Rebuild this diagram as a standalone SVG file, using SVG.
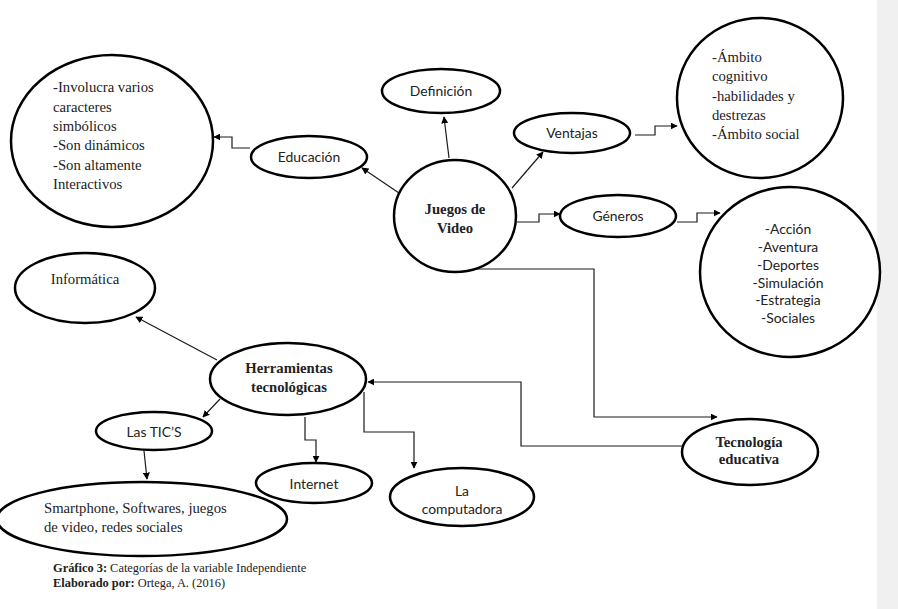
<svg xmlns="http://www.w3.org/2000/svg" width="898" height="609" viewBox="0 0 898 609">
  <style>
    .node { fill: #ffffff; stroke: #000000; stroke-width: 2.5; }
    .serif { font-family: "Liberation Serif", "DejaVu Serif", serif; font-size: 14.7px; fill: #222222; }
    .serif-b { font-family: "Liberation Serif", "DejaVu Serif", serif; font-size: 14.7px; font-weight: bold; fill: #222222; }
    .sans { font-family: Lato, "Liberation Sans", sans-serif; font-size: 13.9px; fill: #222222; }
    .cap { font-family: "Liberation Serif", "DejaVu Serif", serif; font-size: 12.4px; fill: #222222; }
    .link { fill: none; stroke: #1a1a1a; stroke-width: 1.2; marker-end: url(#arrow); }
  </style>
  <defs>
    <marker id="arrow" viewBox="0 0 10 10" refX="9" refY="5" markerWidth="7" markerHeight="7" markerUnits="userSpaceOnUse" orient="auto">
      <path d="M0,0 L10,5 L0,10 z" fill="#000000"/>
    </marker>
  </defs>

  <rect x="0" y="0" width="898" height="609" fill="#ffffff"/>
  <rect x="877" y="0" width="21" height="609" fill="#f0f0f0"/>

  <g id="connectors">
    <path class="link" d="M399,193 L362,168"/>
    <path class="link" d="M449,158 L444,117"/>
    <path class="link" d="M512,188 L543,152"/>
    <path class="link" d="M250,148 H232 V137 H214"/>
    <path class="link" d="M635,135 H655 V126 H677"/>
    <path class="link" d="M517,222 H539 V214 H560"/>
    <path class="link" d="M677,222 H697 V213 H720"/>
    <path class="link" d="M472,269 H594 V417 H717"/>
    <path class="link" d="M682,446 H521 V382 H368"/>
    <path class="link" d="M217,360 L136,317"/>
    <path class="link" d="M220,399 L203,417"/>
    <path class="link" d="M144,451 L147,479"/>
    <path class="link" d="M305,417 V440 H316 V462"/>
    <path class="link" d="M364,392 V432 H414 V468"/>
  </g>

  <g id="juegos">
    <ellipse class="node" cx="455" cy="216" rx="61" ry="56"/>
    <text class="serif-b" x="455" y="214" text-anchor="middle">Juegos de</text>
    <text class="serif-b" x="455" y="233" text-anchor="middle">Video</text>
  </g>

  <g id="definicion">
    <ellipse class="node" cx="441" cy="91" rx="59" ry="22"/>
    <text class="sans" x="441" y="96" text-anchor="middle">Definición</text>
  </g>

  <g id="educacion">
    <ellipse class="node" cx="309" cy="157" rx="58" ry="21"/>
    <text class="sans" x="309" y="162" text-anchor="middle">Educación</text>
  </g>

  <g id="educacion-detalle">
    <ellipse class="node" cx="112" cy="141" rx="101" ry="86"/>
    <text class="serif" x="53" y="92">-Involucra varios</text>
    <text class="serif" x="53" y="112">caracteres</text>
    <text class="serif" x="53" y="131">simbólicos</text>
    <text class="serif" x="53" y="150">-Son dinámicos</text>
    <text class="serif" x="53" y="170">-Son altamente</text>
    <text class="serif" x="53" y="189">Interactivos</text>
  </g>

  <g id="ventajas">
    <ellipse class="node" cx="572" cy="133" rx="58" ry="20"/>
    <text class="sans" x="572" y="138" text-anchor="middle">Ventajas</text>
  </g>

  <g id="ventajas-detalle">
    <ellipse class="node" cx="760" cy="98" rx="83" ry="80"/>
    <text class="serif" x="712" y="62">-Ámbito</text>
    <text class="serif" x="712" y="81">cognitivo</text>
    <text class="serif" x="712" y="101">-habilidades y</text>
    <text class="serif" x="712" y="120">destrezas</text>
    <text class="serif" x="712" y="139">-Ámbito social</text>
  </g>

  <g id="generos">
    <ellipse class="node" cx="618" cy="216" rx="58" ry="21"/>
    <text class="sans" x="618" y="221" text-anchor="middle">Géneros</text>
  </g>

  <g id="generos-detalle">
    <ellipse class="node" cx="790" cy="272" rx="90" ry="85"/>
    <text class="sans" x="788" y="234" text-anchor="middle">-Acción</text>
    <text class="sans" x="788" y="252" text-anchor="middle">-Aventura</text>
    <text class="sans" x="788" y="270" text-anchor="middle">-Deportes</text>
    <text class="sans" x="788" y="288" text-anchor="middle">-Simulación</text>
    <text class="sans" x="788" y="305" text-anchor="middle">-Estrategia</text>
    <text class="sans" x="788" y="323" text-anchor="middle">-Sociales</text>
  </g>

  <g id="tecnologia-educativa">
    <ellipse class="node" cx="750" cy="452" rx="68" ry="33"/>
    <text class="serif-b" x="749" y="447" text-anchor="middle">Tecnología</text>
    <text class="serif-b" x="749" y="464" text-anchor="middle">educativa</text>
  </g>

  <g id="herramientas">
    <ellipse class="node" cx="288" cy="379" rx="78" ry="36"/>
    <text class="serif-b" x="289" y="373" text-anchor="middle">Herramientas</text>
    <text class="serif-b" x="289" y="392" text-anchor="middle">tecnológicas</text>
  </g>

  <g id="informatica">
    <ellipse class="node" cx="85" cy="288" rx="70" ry="35"/>
    <text class="serif" x="85" y="284" text-anchor="middle">Informática</text>
  </g>

  <g id="tics">
    <ellipse class="node" cx="154" cy="431" rx="58" ry="19"/>
    <text class="sans" x="154" y="437" text-anchor="middle">Las TIC’S</text>
  </g>

  <g id="smartphone">
    <ellipse class="node" cx="142" cy="519" rx="145" ry="37"/>
    <text class="serif" x="44" y="513">Smartphone, Softwares, juegos</text>
    <text class="serif" x="44" y="532">de video, redes sociales</text>
  </g>

  <g id="internet">
    <ellipse class="node" cx="314" cy="483" rx="58" ry="20"/>
    <text class="sans" x="314" y="489" text-anchor="middle">Internet</text>
  </g>

  <g id="computadora">
    <ellipse class="node" cx="462" cy="497" rx="72" ry="29"/>
    <text class="sans" x="462" y="496" text-anchor="middle">La</text>
    <text class="sans" x="462" y="514" text-anchor="middle">computadora</text>
  </g>

  <g id="caption">
    <text class="cap" x="53" y="572"><tspan font-weight="bold">Gráfico 3:</tspan> Categorías de la variable Independiente</text>
    <text class="cap" x="53" y="587"><tspan font-weight="bold">Elaborado por:</tspan> Ortega, A. (2016)</text>
  </g>
</svg>
